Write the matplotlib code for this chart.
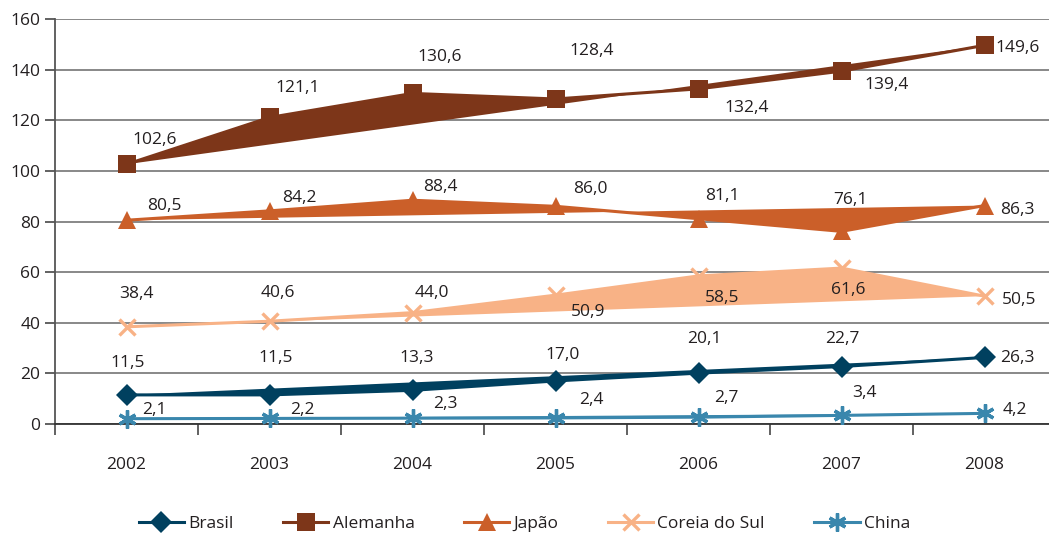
import matplotlib.pyplot as plt

plt.rcParams["font.family"] = ["Open Sans", "DejaVu Sans"]

anos = ["2002", "2003", "2004", "2005", "2006", "2007", "2008"]

brasil = [11.5, 11.5, 13.3, 17.0, 20.1, 22.7, 26.3]
alemanha = [102.6, 121.1, 130.6, 128.4, 132.4, 139.4, 149.6]
japao = [80.5, 84.2, 88.4, 86.0, 81.1, 76.1, 86.3]
coreia = [38.4, 40.6, 44.0, 50.9, 58.5, 61.6, 50.5]
china = [2.1, 2.2, 2.3, 2.4, 2.7, 3.4, 4.2]

# deslocamento dos rótulos (pixels, x para a direita, y para baixo)
off_brasil = [(1, -32), (6, -37), (4, -32), (7, -26), (6, -34), (1, -28), (33, 1)]
off_alemanha = [(28, -24), (28, -29), (27, -36), (36, -48), (48, 19), (45, 14), (33, 3)]
off_japao = [(38, -14), (30, -13), (28, -13), (35, -17), (24, -23), (9, -31), (33, 4)]
off_coreia = [(10, -33), (8, -28), (19, -20), (33, 17), (24, 22), (7, 22), (35, 4)]
off_china = [(28, -9), (33, -8), (33, -14), (36, -18), (28, -19), (23, -22), (30, -3)]

series = [
    ("Brasil", brasil, off_brasil, "#00405f", "D", 11),
    ("Alemanha", alemanha, off_alemanha, "#7d3619", "s", 13),
    ("Japão", japao, off_japao, "#cb5f29", "^", 13),
    ("Coreia do Sul", coreia, off_coreia, "#f8b286", "x", 12),
    ("China", china, off_china, "#3a87ad", (6, 2, 0), 13),
]

fig = plt.figure(figsize=(10.49, 5.36), dpi=100)
ax = fig.add_axes([55 / 1049, 1 - 424 / 536, 1001 / 1049, 405 / 536])

x = list(range(len(anos)))

for nome, valores, offs, cor, marcador, tam in series:
    ax.fill(x, valores, color=cor, linewidth=0, zorder=3)
    ax.plot(x, valores, color=cor, linewidth=2.2, marker=marcador,
            markersize=tam, markeredgewidth=2.4 if marcador in ("x", (6, 2, 0)) else 0,
            label=nome, zorder=4, clip_on=False)
    for xi, v, (dx, dy) in zip(x, valores, offs):
        ax.annotate(f"{v:.1f}".replace(".", ","), (xi, v), xytext=(dx, -dy),
                    textcoords="offset pixels", ha="center", va="center",
                    fontsize=12.5, color="#231f20", zorder=5)

ax.set_xlim(-0.5, 6.5)
ax.set_ylim(0, 160)
ax.set_yticks(range(0, 161, 20))
ax.grid(axis="y", color="#7f7f7f", linewidth=1.3, zorder=0)

ax.set_xticks(x)
ax.set_xticklabels(anos)
ax.set_xticks([i + 0.5 for i in range(-1, 7)], minor=True)
ax.tick_params(axis="x", which="major", length=0, pad=24, labelsize=12.5, labelcolor="#231f20")
ax.tick_params(axis="x", which="minor", length=8, width=1.3, color="#555555")
ax.tick_params(axis="y", length=7, width=1.3, color="#555555", labelsize=12.5, labelcolor="#231f20")

for lado in ["top", "right"]:
    ax.spines[lado].set_visible(False)
ax.spines["left"].set_color("#555555")
ax.spines["left"].set_linewidth(1.3)
ax.spines["bottom"].set_color("#333333")
ax.spines["bottom"].set_linewidth(1.3)

fig.legend(loc="center", bbox_to_anchor=(0.5, 1 - 524 / 536), ncol=5, frameon=False,
           fontsize=12.5, handlelength=2.6, handletextpad=0.25, columnspacing=2.85,
           labelcolor="#231f20")

fig.savefig("out.png", dpi=100)
